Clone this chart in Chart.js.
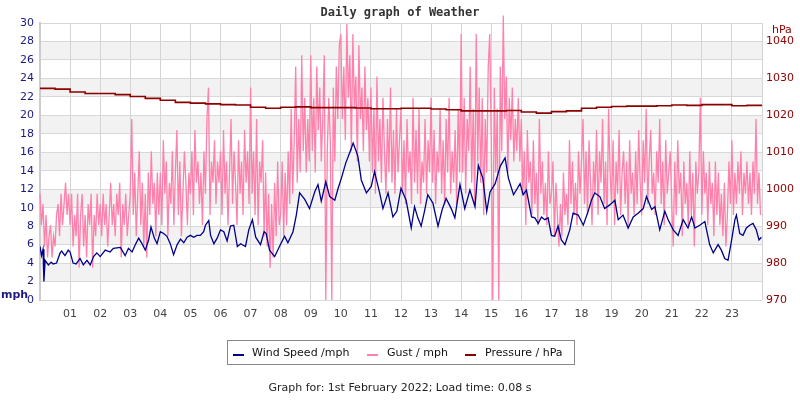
<!DOCTYPE html>
<html>
<head>
<meta charset="utf-8">
<script src="https://cdn.jsdelivr.net/npm/chart.js@4/dist/chart.umd.min.js"></script>
<style>
  body { margin: 0; background: #fff; }
  #wrap { position: relative; width: 800px; height: 400px; font-family: "DejaVu Sans", Verdana, sans-serif; }
  #c { position: absolute; left: 0; top: 0; }
  .abs { position: absolute; white-space: nowrap; }
  #title { left: 0; width: 800px; top: 5px; text-align: center; font: bold 12px "DejaVu Sans Mono", monospace; color: #333; }
  #mph { left: 1px; top: 288px; font-weight: bold; font-size: 11px; color: #1a1a80; }
  #hpa { left: 772px; top: 23px; font-size: 11px; color: #8b0000; }
  #legend { left: 227px; top: 340px; width: 346px; height: 23px; border: 1px solid #888; font-size: 11px; color: #111; }
  .sw { position: absolute; top: 13px; width: 11px; height: 2px; }
  .lt { position: absolute; top: 5px; }
  #foot { left: 0; width: 800px; top: 381px; text-align: center; font-size: 11px; color: #222; }
</style>
</head>
<body>
<div id="wrap">
  <canvas id="c" width="800" height="400"></canvas>
  <div class="abs" id="title">Daily graph of Weather</div>
  <div class="abs" id="mph">mph</div>
  <div class="abs" id="hpa">hPa</div>
  <div class="abs" id="legend">
    <div class="sw" style="left:5px;background:#00008b"></div><div class="lt" style="left:24px">Wind Speed /mph</div>
    <div class="sw" style="left:139px;background:#ff80aa"></div><div class="lt" style="left:159px">Gust / mph</div>
    <div class="sw" style="left:237px;background:#8b0000"></div><div class="lt" style="left:257px">Pressure / hPa</div>
  </div>
  <div class="abs" id="foot">Graph for: 1st February 2022; Load time: 0.08 s</div>
</div>
<script>
// ---- data (hours of the day) ----
const hourLabels = ['01','02','03','04','05','06','07','08','09','10','11','12','13','14','15','16','17','18','19','20','21','22','23'];

const windHours = [0.00,0.05,0.10,0.13,0.17,0.28,0.37,0.44,0.55,0.67,0.72,0.83,0.94,1.00,1.10,1.20,1.33,1.44,1.56,1.67,1.78,1.89,2.00,2.17,2.33,2.44,2.67,2.83,2.94,3.06,3.17,3.28,3.39,3.50,3.61,3.69,3.80,3.89,4.00,4.11,4.22,4.33,4.44,4.56,4.67,4.78,4.89,5.00,5.11,5.22,5.33,5.44,5.50,5.61,5.67,5.78,5.89,6.00,6.11,6.22,6.33,6.44,6.56,6.67,6.83,6.94,7.06,7.17,7.33,7.45,7.52,7.63,7.80,7.96,8.13,8.24,8.41,8.52,8.63,8.80,8.96,9.13,9.24,9.35,9.50,9.63,9.80,9.91,10.02,10.16,10.30,10.41,10.50,10.57,10.68,10.85,11.01,11.12,11.29,11.40,11.57,11.73,11.86,12.00,12.17,12.34,12.45,12.56,12.67,12.78,12.89,13.06,13.23,13.37,13.50,13.67,13.79,13.96,14.12,14.29,14.46,14.57,14.72,14.85,14.96,15.13,15.30,15.46,15.57,15.74,15.96,16.06,16.17,16.34,16.45,16.56,16.67,16.78,16.89,17.00,17.11,17.22,17.33,17.45,17.61,17.72,17.89,18.06,18.22,18.33,18.44,18.61,18.77,18.94,19.11,19.22,19.38,19.55,19.72,19.88,20.05,20.16,20.33,20.44,20.60,20.77,20.88,21.05,21.21,21.38,21.54,21.66,21.77,21.93,22.10,22.26,22.38,22.54,22.65,22.76,22.87,22.98,23.10,23.15,23.26,23.37,23.48,23.59,23.70,23.81,23.90,23.98];
const windMph = [5.8,4.8,5.5,2.0,4.3,3.8,4.1,3.9,4.0,5.1,5.3,4.8,5.4,5.2,4.0,3.9,4.5,3.8,4.3,3.8,4.7,5.1,4.7,5.4,5.2,5.6,5.7,4.8,5.6,5.2,6.0,6.7,6.1,5.4,6.5,7.9,6.7,6.1,7.4,7.2,6.9,6.1,4.9,6.0,6.6,6.2,6.8,7.0,6.8,7.0,7.0,7.4,8.1,8.6,7.0,6.1,6.7,7.6,7.4,6.4,8.0,8.1,5.8,6.1,5.8,7.6,8.7,6.8,6.0,7.4,7.2,5.4,4.7,5.8,6.9,6.2,7.4,9.2,11.6,10.9,9.9,11.7,12.5,10.7,12.8,11.2,10.8,12.1,13.2,14.8,16.0,17.0,16.2,15.5,13.0,11.6,12.3,13.9,11.6,9.9,11.6,9.0,9.6,12.1,10.8,7.8,10.1,8.9,8.0,9.6,11.4,10.5,8.0,9.8,11.0,9.9,8.9,12.5,9.9,11.9,10.1,14.6,13.2,9.6,11.7,12.6,14.5,15.4,13.2,11.4,12.6,11.4,11.9,9.0,8.9,8.3,9.0,8.7,8.9,7.0,6.9,8.0,6.5,6.0,7.6,9.4,9.2,8.1,9.6,10.8,11.6,11.2,9.9,10.3,10.8,8.7,9.2,7.8,9.0,9.4,9.9,11.2,9.8,10.1,7.6,9.6,8.7,7.6,7.0,8.7,7.8,9.0,7.8,8.1,8.5,6.0,5.1,6.0,5.4,4.5,4.3,6.3,8.7,9.2,7.2,7.0,7.8,8.1,8.3,7.6,6.5,6.8];

// gust: twenty readings per hour (every 3 minutes), hour 00 to 23
const gustPerHour = 20;
const gustMph = [
  11.5,8.1,10.4,5.8,9.2,4.6,6.9,8.1,4.6,6.9, 5.8,9.2,10.4,6.9,11.5,8.1,10.4,12.7,9.2,11.5,
  8.1,11.5,5.8,9.2,6.9,11.5,3.5,9.2,11.5,5.8, 9.2,4.6,10.4,8.1,11.5,3.5,9.2,6.9,11.5,8.1,
  10.4,6.9,11.5,8.1,10.4,5.8,9.2,12.7,8.1,10.4, 6.9,11.5,9.2,12.7,4.6,10.4,8.1,11.5,6.9,9.2,
  11.5,19.6,9.2,13.8,6.9,11.5,16.1,8.1,12.7,5.8, 11.5,4.6,13.8,9.2,16.1,10.4,12.7,6.9,13.8,9.2,
  13.8,8.1,17.3,11.5,15.0,6.9,12.7,10.4,16.1,8.1, 13.8,18.4,9.2,15.0,6.9,11.5,16.1,12.7,8.1,13.8,
  11.5,16.1,9.2,18.4,12.7,15.0,10.4,13.8,8.1,16.1, 11.5,19.6,23.0,9.2,15.0,12.7,17.3,10.4,15.0,12.7,
  16.1,9.2,18.4,11.5,15.0,8.1,13.8,19.6,10.4,16.1, 12.7,8.1,17.3,11.5,15.0,9.2,18.4,12.7,16.1,10.4,
  23.0,11.5,16.1,9.2,19.6,8.1,15.0,12.7,17.3,6.9, 13.8,5.8,11.5,3.5,10.4,4.6,12.7,6.9,15.0,8.1,
  9.2,15.0,6.9,13.8,8.1,16.1,10.4,20.7,11.5,17.3, 25.3,12.7,19.6,13.8,26.5,16.1,21.9,13.8,19.6,15.0,
  26.5,16.1,21.9,13.8,25.3,18.4,23.0,15.0,19.6,26.5, 0,16.1,21.9,17.3,0,23.0,15.0,25.3,19.6,27.6,
  28.8,19.6,25.3,17.3,29.9,21.9,26.5,16.1,28.8,20.7, 24.2,15.0,27.6,19.6,23.0,16.1,25.3,18.4,21.9,15.0,
  23.0,13.8,20.7,11.5,24.2,15.0,19.6,12.7,21.9,16.1, 11.5,19.6,13.8,23.0,12.7,18.4,11.5,20.7,13.8,17.3,
  20.7,11.5,17.3,10.4,19.6,13.8,16.1,10.4,21.9,12.7, 18.4,11.5,20.7,10.4,15.0,12.7,19.6,11.5,17.3,13.8,
  21.9,12.7,18.4,10.4,16.1,13.8,20.7,11.5,17.3,10.4, 19.6,13.8,21.9,11.5,16.1,12.7,18.4,10.4,20.7,13.8,
  28.8,13.8,21.9,11.5,19.6,16.1,25.3,12.7,20.7,10.4, 28.8,15.0,23.0,12.7,21.9,9.2,19.6,13.8,25.3,28.8,
  17.3,0,23.0,13.8,20.7,0,25.3,16.1,30.8,19.6, 24.2,13.8,21.9,17.3,23.0,15.0,19.6,16.1,21.9,15.0,
  19.6,11.5,16.1,8.1,18.4,12.7,15.0,9.2,17.3,10.4, 13.8,8.1,19.6,11.5,15.0,9.2,12.7,8.1,16.1,10.4,
  11.5,15.0,6.9,12.7,9.2,5.8,10.4,6.9,13.8,9.2, 11.5,8.1,17.3,10.4,15.0,9.2,12.7,8.1,16.1,11.5,
  15.0,19.6,10.4,16.1,9.2,17.3,12.7,8.1,15.0,11.5, 18.4,9.2,16.1,12.7,19.6,10.4,15.0,8.1,20.7,13.8,
  10.4,17.3,8.1,15.0,11.5,18.4,9.2,13.8,16.1,10.4, 15.0,8.1,17.3,11.5,13.8,9.2,16.1,10.4,18.4,12.7,
  9.2,17.3,12.7,20.7,10.4,15.0,18.4,11.5,13.8,9.2, 16.1,12.7,19.6,10.4,15.0,8.1,17.3,11.5,13.8,16.1,
  10.4,5.8,15.0,9.2,17.3,11.5,13.8,6.9,15.0,10.4, 12.7,8.1,16.1,9.2,13.8,5.8,15.0,11.5,13.8,21.9,
  9.2,16.1,11.5,13.8,8.1,15.0,10.4,12.7,6.9,15.0, 9.2,13.8,8.1,11.5,6.9,12.7,5.8,9.2,15.0,10.4,
  17.3,9.2,13.8,10.4,15.0,11.5,16.1,9.2,13.8,11.5, 15.0,10.4,13.8,9.2,15.0,11.5,19.6,10.4,13.8,9.2
];

// pressure: every half hour
const pressureHours = [0,0.5,1,1.5,2,2.5,3,3.5,4,4.5,5,5.5,6,6.5,7,7.5,8,8.5,9,9.5,10,10.5,11,11.5,12,12.5,13,13.5,14,14.5,15,15.5,16,16.5,17,17.5,18,18.5,19,19.5,20,20.5,21,21.5,22,22.5,23,23.5,24];
const pressureHpa = [1027.3,1027.1,1026.3,1025.9,1025.9,1025.6,1025.1,1024.6,1024.1,1023.5,1023.3,1023.1,1022.9,1022.8,1022.2,1021.9,1022.2,1022.3,1022.1,1022.1,1022.1,1022.0,1021.8,1021.8,1021.9,1021.9,1021.7,1021.5,1021.2,1021.2,1021.2,1021.3,1020.9,1020.6,1021.0,1021.2,1021.9,1022.2,1022.4,1022.5,1022.5,1022.6,1022.8,1022.7,1022.9,1022.9,1022.6,1022.7,1022.8];

// ---- build chart ----
const pts = (xs, ys) => ys.map((v, i) => ({ x: xs[i], y: v }));
const gustPts = gustMph.map((v, i) => ({ x: i / gustPerHour, y: v }));

const bands = {
  id: 'bands',
  beforeDraw(chart) {
    const { ctx, chartArea: a, scales: { y } } = chart;
    ctx.save();
    ctx.fillStyle = '#fff';
    ctx.fillRect(0, 0, chart.width, chart.height);
    ctx.fillStyle = '#f2f2f2';
    for (let v = 2; v < 30; v += 4) {
      const top = y.getPixelForValue(v + 2), bot = y.getPixelForValue(v);
      ctx.fillRect(a.left, top, a.right - a.left, bot - top);
    }
    ctx.restore();
  }
};

const font = { family: '"DejaVu Sans", Verdana, sans-serif', size: 11 };

new Chart(document.getElementById('c'), {
  type: 'line',
  data: {
    datasets: [
      { label: 'Wind Speed /mph', data: pts(windHours, windMph), yAxisID: 'y', borderColor: '#00008b', borderWidth: 1.3, pointRadius: 0, tension: 0, order: 0 },
      { label: 'Pressure / hPa', data: pts(pressureHours, pressureHpa), yAxisID: 'y2', borderColor: '#8b0000', borderWidth: 1.6, pointRadius: 0, stepped: true, order: 1 },
      { label: 'Gust / mph', data: gustPts, yAxisID: 'y', borderColor: '#ff80aa', borderWidth: 1.3, pointRadius: 0, tension: 0, clip: false, order: 2 }
    ]
  },
  options: {
    responsive: false,
    animation: false,
    devicePixelRatio: 1,
    layout: { padding: { top: 23, left: 0, right: 0, bottom: 0 } },
    plugins: { legend: { display: false }, title: { display: false }, tooltip: { enabled: false } },
    scales: {
      x: {
        type: 'linear', min: 0, max: 24,
        afterBuildTicks: s => { s.ticks = Array.from({ length: 25 }, (_, i) => ({ value: i })); },
        ticks: { autoSkip: false, maxRotation: 0, color: '#444', font, padding: 8,
                 callback: v => (v >= 1 && v <= 23) ? hourLabels[v - 1] : '' },
        grid: { color: '#d4d4d4', drawTicks: false },
        border: { display: false },
        afterFit: s => { s.height = 100; }
      },
      y: {
        position: 'left', min: 0, max: 30,
        ticks: { stepSize: 2, color: '#1a1a80', font, padding: 6, callback: v => String(v) },
        grid: { color: '#d8d8d8', drawTicks: false },
        border: { display: true, color: '#cccccc', width: 2 },
        afterFit: s => { s.width = 40; }
      },
      y2: {
        position: 'right', min: 970, max: 1045,
        afterBuildTicks: s => { s.ticks = s.ticks.filter(t => t.value % 10 === 0); },
        ticks: { stepSize: 10, color: '#8b0000', font, padding: 4, callback: v => String(v) },
        grid: { drawOnChartArea: false, drawTicks: false },
        border: { display: false },
        afterFit: s => { s.width = 38; }
      }
    }
  },
  plugins: [bands]
});
</script>
</body>
</html>
